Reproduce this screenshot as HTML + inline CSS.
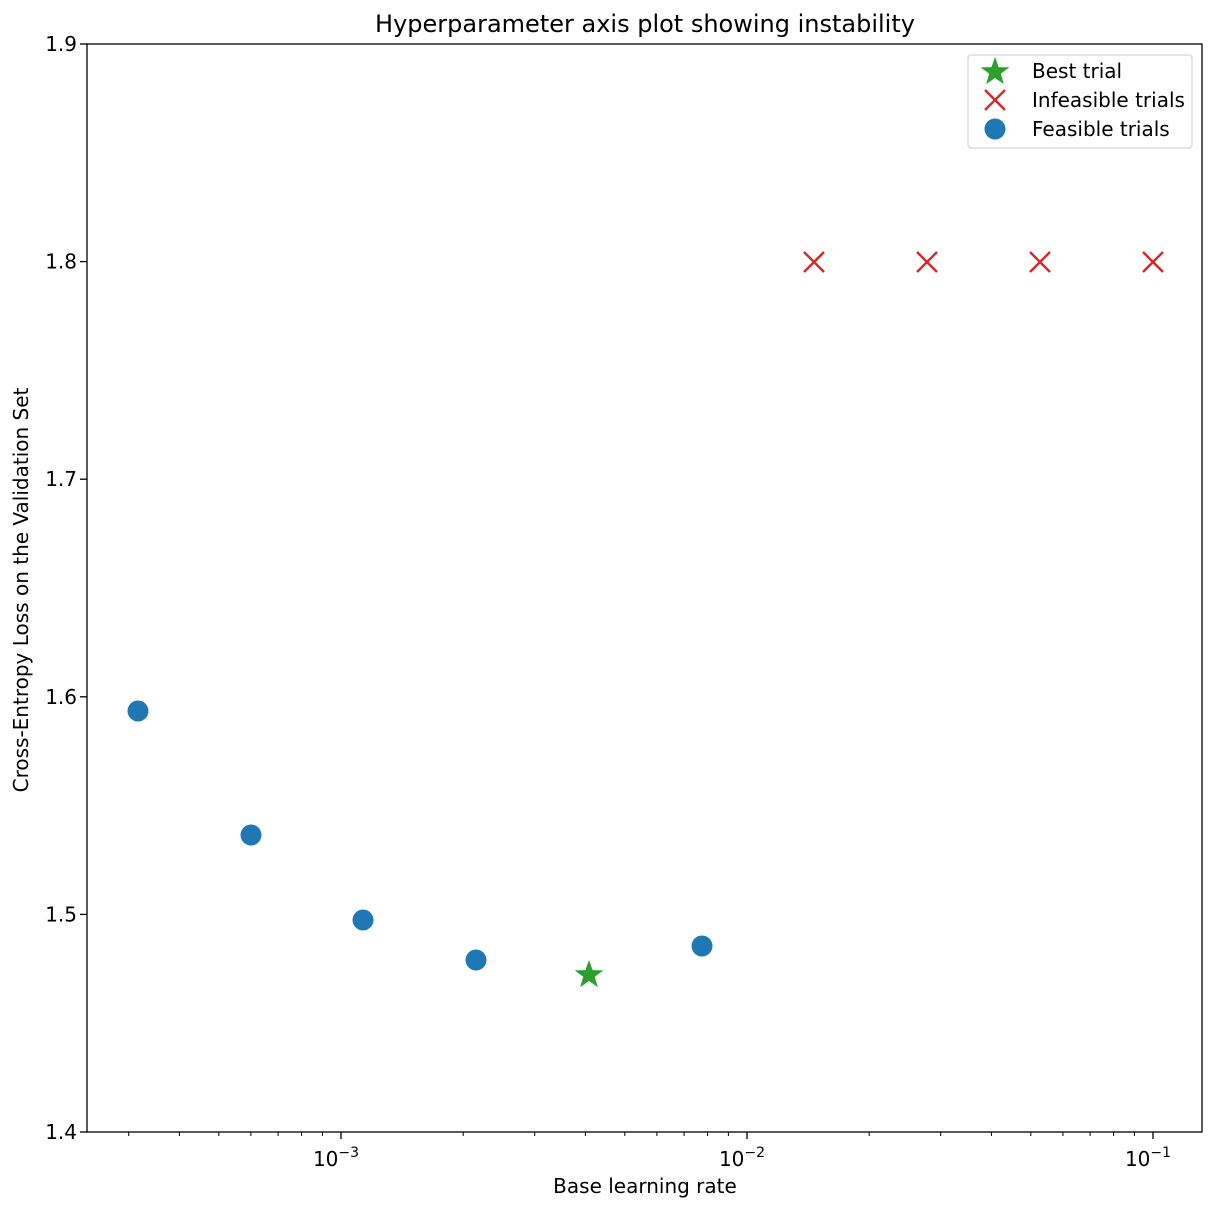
<!DOCTYPE html>
<html><head><meta charset="utf-8"><style>body{margin:0;background:#fff}svg{display:block}text{font-family:"DejaVu Sans","Liberation Sans",sans-serif;fill:#000}</style></head>
<body>
<svg width="1217" height="1209" viewBox="0 0 1217 1209" xmlns="http://www.w3.org/2000/svg">
<defs>
<polygon id="star" points="0,-15 3.6,-4.9 14.3,-4.6 5.8,1.8 8.8,12.1 0,6 -8.8,12.1 -5.8,1.8 -14.3,-4.6 -3.6,-4.9" fill="#2ca02c"/>
<g id="xm" stroke="#d62728" stroke-width="2.4"><line x1="-10" y1="-10" x2="10" y2="10"/><line x1="-10" y1="10" x2="10" y2="-10"/></g>
</defs>
<text x="645" y="32" font-size="24" text-anchor="middle">Hyperparameter axis plot showing instability</text>
<rect x="87" y="44" width="1115" height="1088" fill="none" stroke="#000" stroke-width="1.3"/>
<g stroke="#000" stroke-width="1.3">
<line x1="80" y1="44" x2="87" y2="44"/><line x1="80" y1="261.6" x2="87" y2="261.6"/><line x1="80" y1="479.2" x2="87" y2="479.2"/><line x1="80" y1="696.8" x2="87" y2="696.8"/><line x1="80" y1="914.4" x2="87" y2="914.4"/><line x1="80" y1="1132" x2="87" y2="1132"/>
<line x1="341" y1="1132" x2="341" y2="1139"/><line x1="747" y1="1132" x2="747" y2="1139"/><line x1="1153" y1="1132" x2="1153" y2="1139"/>
</g>
<g stroke="#000" stroke-width="1">
<line x1="128.7" y1="1132" x2="128.7" y2="1136"/><line x1="179.4" y1="1132" x2="179.4" y2="1136"/><line x1="218.8" y1="1132" x2="218.8" y2="1136"/><line x1="250.9" y1="1132" x2="250.9" y2="1136"/><line x1="278.1" y1="1132" x2="278.1" y2="1136"/><line x1="301.6" y1="1132" x2="301.6" y2="1136"/><line x1="322.4" y1="1132" x2="322.4" y2="1136"/>
<line x1="463.2" y1="1132" x2="463.2" y2="1136"/><line x1="534.7" y1="1132" x2="534.7" y2="1136"/><line x1="585.4" y1="1132" x2="585.4" y2="1136"/><line x1="624.8" y1="1132" x2="624.8" y2="1136"/><line x1="656.9" y1="1132" x2="656.9" y2="1136"/><line x1="684.1" y1="1132" x2="684.1" y2="1136"/><line x1="707.6" y1="1132" x2="707.6" y2="1136"/><line x1="728.4" y1="1132" x2="728.4" y2="1136"/>
<line x1="869.2" y1="1132" x2="869.2" y2="1136"/><line x1="940.7" y1="1132" x2="940.7" y2="1136"/><line x1="991.4" y1="1132" x2="991.4" y2="1136"/><line x1="1030.8" y1="1132" x2="1030.8" y2="1136"/><line x1="1062.9" y1="1132" x2="1062.9" y2="1136"/><line x1="1090.1" y1="1132" x2="1090.1" y2="1136"/><line x1="1113.6" y1="1132" x2="1113.6" y2="1136"/><line x1="1134.4" y1="1132" x2="1134.4" y2="1136"/>
</g>
<g font-size="20" text-anchor="end">
<text x="77" y="51">1.9</text><text x="77" y="268.6">1.8</text><text x="77" y="486.2">1.7</text><text x="77" y="703.8">1.6</text><text x="77" y="921.4">1.5</text><text x="77" y="1139">1.4</text>
</g>
<g font-size="20" text-anchor="middle">
<text x="336" y="1166">10<tspan font-size="14" dy="-9">−3</tspan></text>
<text x="742" y="1166">10<tspan font-size="14" dy="-9">−2</tspan></text>
<text x="1148" y="1166">10<tspan font-size="14" dy="-9">−1</tspan></text>
</g>
<text x="645" y="1193" font-size="20" text-anchor="middle">Base learning rate</text>
<text transform="translate(28,590) rotate(-90)" font-size="20" text-anchor="middle">Cross-Entropy Loss on the Validation Set</text>
<g fill="#1f77b4">
<circle cx="138" cy="711" r="10.5"/><circle cx="251" cy="835" r="10.5"/><circle cx="363" cy="920" r="10.5"/><circle cx="476" cy="960" r="10.5"/><circle cx="702" cy="946" r="10.5"/>
</g>
<use href="#star" x="589" y="975"/>
<use href="#xm" x="814" y="262"/><use href="#xm" x="927" y="262"/><use href="#xm" x="1040" y="262"/><use href="#xm" x="1153" y="262"/>
<rect x="968" y="55" width="224" height="93" rx="3" fill="#fff" stroke="#ccc" stroke-width="1"/>
<use href="#star" x="995" y="72"/>
<use href="#xm" x="995" y="100"/>
<circle cx="995" cy="129" r="10.5" fill="#1f77b4"/>
<g font-size="20"><text x="1032" y="78">Best trial</text><text x="1032" y="107">Infeasible trials</text><text x="1032" y="136">Feasible trials</text></g>
</svg>
</body></html>
